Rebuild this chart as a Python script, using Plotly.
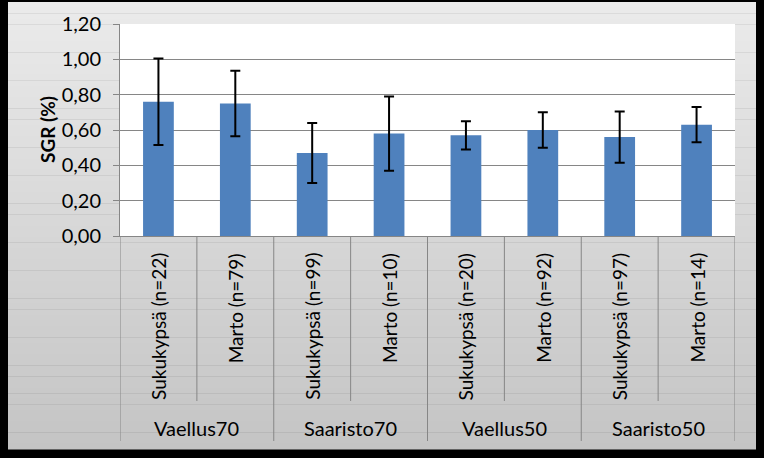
import plotly.graph_objects as go

# ---- data ----
groups = ["Vaellus70", "Saaristo70", "Vaellus50", "Saaristo50"]
inner_labels = ["Sukukypsä (n=22)", "Marto (n=79)", "Sukukypsä (n=99)", "Marto (n=10)",
                "Sukukypsä (n=20)", "Marto (n=92)", "Sukukypsä (n=97)", "Marto (n=14)"]
sgr_mean = [0.76, 0.75, 0.47, 0.58, 0.57, 0.60, 0.56, 0.63]
sgr_err = [0.245, 0.185, 0.17, 0.21, 0.08, 0.10, 0.145, 0.10]
y_ticks = [0.0, 0.2, 0.4, 0.6, 0.8, 1.0, 1.2]
y_title = "SGR (%)"

W, H = 764, 458
ML, MR, MT, MB = 120, 29, 24, 222
PH = H - MT - MB  # plot height in px


def py(pix):
    """pixel y (from top) -> paper y"""
    return (H - MB - pix) / PH


def px(pix):
    return (pix - ML) / (W - ML - MR)


FONT = "Lato"
GRID = "#868686"

fig = go.Figure()
fig.add_trace(go.Bar(
    x=inner_labels, y=sgr_mean, width=0.4,
    marker=dict(color="#4F81BD", line=dict(width=0)),
    error_y=dict(type="data", array=sgr_err, visible=True,
                 color="black", thickness=2, width=5),
    showlegend=False,
))

shapes = []
# panel gradient background
top_pix, bot_pix = 2, 449
nb = 80
c0, c1 = 235, 196
for i in range(nb):
    y0p = top_pix + (bot_pix - top_pix) * i / nb
    y1p = top_pix + (bot_pix - top_pix) * (i + 1) / nb
    c = round(c0 + (c1 - c0) * (i + 0.5) / nb)
    col = f"rgb({c},{c},{c})"
    shapes.append(dict(type="rect", xref="paper", yref="paper", layer="below",
                       x0=px(8), x1=px(756), y0=py(y1p + 0.5), y1=py(y0p),
                       fillcolor=col, line=dict(width=0)))
# white plot area
shapes.append(dict(type="rect", xref="paper", yref="paper", layer="below",
                   x0=0, x1=1, y0=0, y1=1, fillcolor="white", line=dict(width=0)))

# category dividers
n = len(inner_labels)
per_group = n // len(groups)
for k in range(n + 1):
    xb = k - 0.5
    is_group = (k % per_group == 0)
    shapes.append(dict(type="line", xref="x", yref="paper", layer="above",
                       x0=xb, x1=xb, y0=0, y1=py(441 if is_group else 401),
                       line=dict(color=GRID, width=1)))

annotations = []
for lab in inner_labels:
    annotations.append(dict(x=lab, xref="x", y=py(251), yref="paper",
                            text=lab, textangle=-90, showarrow=False,
                            xanchor="center", yanchor="top",
                            font=dict(family=FONT, size=19, color="black")))
for gi, g in enumerate(groups):
    xc = gi * per_group + (per_group - 1) / 2
    annotations.append(dict(x=xc, xref="x", y=py(428), yref="paper",
                            text=g, showarrow=False, xanchor="center", yanchor="middle",
                            font=dict(family=FONT, size=20, color="black")))
annotations.append(dict(x=px(47), xref="paper", y=0.5, yref="paper",
                        text=f"<b>{y_title}</b>", textangle=-90, showarrow=False,
                        xanchor="center", yanchor="middle",
                        font=dict(family=FONT, size=19, color="black")))

fig.update_layout(
    width=W, height=H,
    margin=dict(l=ML, r=MR, t=MT, b=MB, pad=0),
    paper_bgcolor="black",
    plot_bgcolor="rgba(0,0,0,0)",
    separators=", ",
    shapes=shapes,
    annotations=annotations,
    bargap=0.6,
    xaxis=dict(type="category", categoryorder="array", categoryarray=inner_labels,
               range=[-0.5, n - 0.5], showticklabels=False, ticks="",
               showgrid=False, showline=True, linecolor=GRID, linewidth=1,
               zeroline=False, fixedrange=True),
    yaxis=dict(range=[0, 1.2], tickvals=y_ticks, tickformat=".2f",
               showgrid=True, gridcolor=GRID, gridwidth=1,
               showline=True, linecolor=GRID, linewidth=1,
               ticks="outside", ticklen=6, tickcolor=GRID, ticklabelstandoff=8,
               zeroline=False,
               tickfont=dict(family=FONT, size=20, color="black")),
)

fig.write_html("out.html",
               config={"displayModeBar": False},
               post_script="document.body.style.margin='0';document.body.style.background='black';")
